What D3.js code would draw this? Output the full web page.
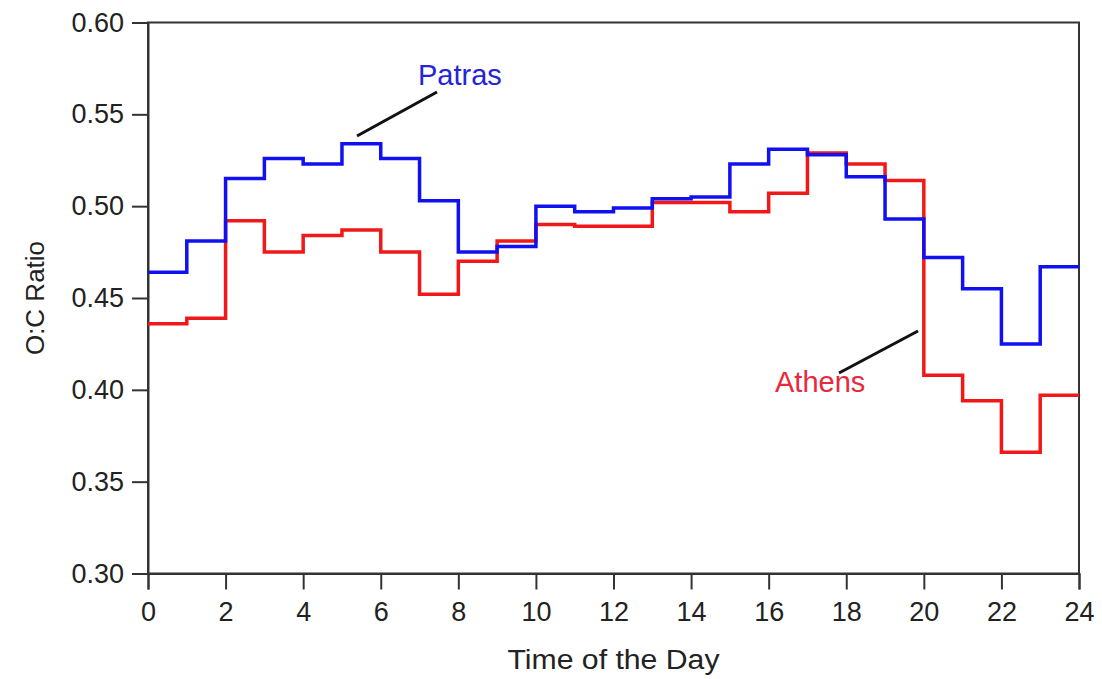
<!DOCTYPE html>
<html>
<head>
<meta charset="utf-8">
<script src="https://cdn.jsdelivr.net/npm/d3@7"></script>
<style>
  body { margin: 0; background: #fff; }
  text { font-family: "Liberation Sans", Arial, sans-serif; }
</style>
</head>
<body>
<svg width="1102" height="679"></svg>
<script>
// hourly O:C values, each holds from hour h to h+1
var hours = d3.range(0, 24);
var patras = [0.464, 0.481, 0.515, 0.526, 0.523, 0.534, 0.526, 0.503, 0.475, 0.478, 0.500, 0.497,
              0.499, 0.504, 0.505, 0.523, 0.531, 0.528, 0.516, 0.493, 0.472, 0.455, 0.425, 0.467];
var athens = [0.436, 0.439, 0.492, 0.475, 0.484, 0.487, 0.475, 0.452, 0.470, 0.481, 0.490, 0.489,
              0.489, 0.502, 0.502, 0.497, 0.507, 0.529, 0.523, 0.514, 0.408, 0.394, 0.366, 0.397];
var xTicks = d3.range(0, 25, 2);
var yTicks = [0.30, 0.35, 0.40, 0.45, 0.50, 0.55, 0.60];

var width = 1102, height = 679;
var margin = {left: 148, top: 22.5, right: 23, bottom: 105.5};

var svg = d3.select('svg');

var x = d3.scaleLinear().domain([0, 24]).range([margin.left, width - margin.right]);
var y = d3.scaleLinear().domain([0.30, 0.60]).range([height - margin.bottom, margin.top]);

function steps(vals) {
    var pts = hours.map(function(h, i){ return [h, vals[i]] });
    pts.push([24, vals[vals.length - 1]]);
    return pts;
}

var line = d3.line()
    .x(function(d){ return x(d[0]) })
    .y(function(d){ return y(d[1]) })
    .curve(d3.curveStepAfter);

// frame
svg.append('rect')
    .attr('x', x(0)).attr('y', y(0.60))
    .attr('width', x(24) - x(0)).attr('height', y(0.30) - y(0.60))
    .attr('fill', 'none').attr('stroke', '#333').attr('stroke-width', 2);

var xAxis = svg.append('g')
    .attr('transform', 'translate(0,' + y(0.30) + ')')
    .call(d3.axisBottom(x).tickValues(xTicks).tickSize(16).tickPadding(12).tickFormat(d3.format('d')));

var yAxis = svg.append('g')
    .attr('transform', 'translate(' + x(0) + ',0)')
    .call(d3.axisLeft(y).tickValues(yTicks).tickSize(16).tickPadding(8).tickFormat(d3.format('.2f')));

[xAxis, yAxis].forEach(function(ax){
    ax.select('.domain').attr('stroke', '#333').attr('stroke-width', 2);
    ax.selectAll('.tick line').attr('stroke', '#333').attr('stroke-width', 2);
    ax.selectAll('.tick text').attr('fill', '#222').style('font-size', '27px')
        .style('font-family', '"Liberation Sans", Arial, sans-serif');
});

svg.append('path')
    .attr('d', line(steps(athens)))
    .attr('fill', 'none').attr('stroke', '#f01818').attr('stroke-width', 3.5);

svg.append('path')
    .attr('d', line(steps(patras)))
    .attr('fill', 'none').attr('stroke', '#1010f0').attr('stroke-width', 3.5);

// labels with leader lines
svg.append('line')
    .attr('x1', 357).attr('y1', 136).attr('x2', 437).attr('y2', 92)
    .attr('stroke', '#111').attr('stroke-width', 3);
svg.append('text')
    .attr('x', 418).attr('y', 85)
    .style('font-size', '29px').attr('fill', '#2424d8')
    .text('Patras');

svg.append('line')
    .attr('x1', 839).attr('y1', 373).attr('x2', 918).attr('y2', 331)
    .attr('stroke', '#111').attr('stroke-width', 3);
svg.append('text')
    .attr('x', 775).attr('y', 392)
    .style('font-size', '29px').attr('fill', '#e8283c')
    .text('Athens');

// axis titles
svg.append('text')
    .attr('x', (x(0) + x(24)) / 2).attr('y', 669)
    .attr('text-anchor', 'middle')
    .attr('textLength', 212).attr('lengthAdjust', 'spacingAndGlyphs')
    .style('font-size', '27px').attr('fill', '#222')
    .text('Time of the Day');

svg.append('text')
    .attr('transform', 'translate(44,' + ((y(0.30) + y(0.60)) / 2) + ') rotate(-90)')
    .attr('text-anchor', 'middle')
    .style('font-size', '26px').attr('fill', '#222')
    .text('O:C Ratio');
</script>
</body>
</html>
